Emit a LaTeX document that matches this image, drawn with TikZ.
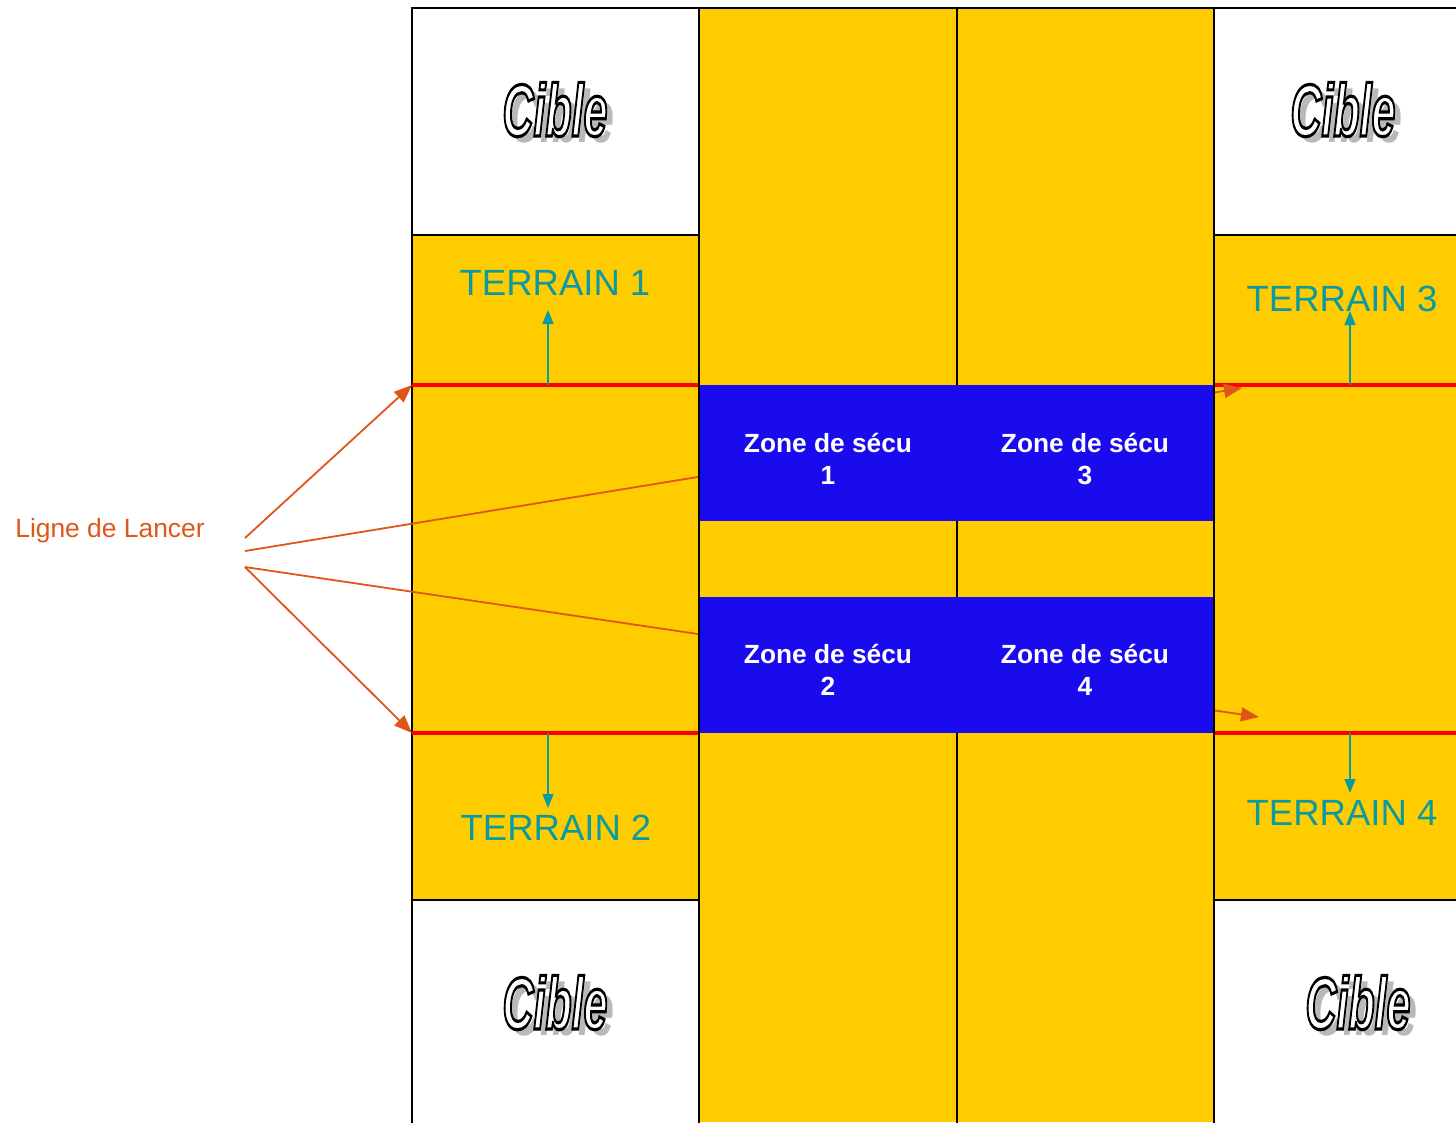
\documentclass[tikz,border=0pt]{standalone}
\usepackage{fontspec}
\setmainfont{Liberation Sans}
\usetikzlibrary{arrows.meta}
\definecolor{yel}{HTML}{FFCC00}
\definecolor{blu}{HTML}{1A0AEE}
\definecolor{teal2}{HTML}{0A9AA0}
\definecolor{orng}{HTML}{E0561A}
\definecolor{redl}{HTML}{FF0000}
\tikzset{
  bline/.style={black, line width=1.6pt},
  redline/.style={redl, line width=4.5pt},
  oarrow/.style={orng, line width=1.8pt, -{Triangle[length=18pt,width=14pt]}},
  tarrow/.style={teal2, line width=1.6pt, -{Triangle[length=14pt,width=11pt]}},
  terrain/.style={text=teal2, font=\fontsize{36.5}{40}\selectfont, inner sep=0pt, anchor=base},
  zone/.style={text=white, font=\fontsize{26.3}{32}\selectfont\bfseries, align=center, inner sep=0pt},
  lanc/.style={text=orng, font=\fontsize{26.4}{30}\selectfont, inner sep=0pt, anchor=base},
  cib/.style={font=\fontsize{74}{75}\selectfont\bfseries\itshape, inner sep=0pt, anchor=base}
}
\newcommand{\cibleword}{\scalebox{0.58}[1]{Cible}}
\newcommand{\outlinedword}{\scalebox{0.58}[1]{\special{pdf:literal direct 0 G 2 Tr 3.2 w}Cible\special{pdf:literal direct 0 Tr}}}
\newcommand{\drawcible}[2]{%
  \node[cib, text=gray!55, xshift=7pt, yshift=-6pt] (#1s) at (#2) {\cibleword};
  \node[cib, text=white] (#1) at (#2) {\outlinedword};
}
\begin{document}
\begin{tikzpicture}[x=1pt,y=-1pt]
\useasboundingbox (0,0) rectangle (1456,1122);
\fill[white] (0,0) rectangle (1456,1122);
% yellow areas
\fill[yel] (412,235) rectangle (699,900);
\fill[yel] (699,8) rectangle (1214,1122);
\fill[yel] (1214,235) rectangle (1460,900);
% frame lines
\draw[bline] (412,1125) -- (412,8) -- (1460,8);
\draw[bline] (957,8) -- (957,1125);
\draw[bline] (412,235) -- (699,235);
\draw[bline] (1214,235) -- (1460,235);
\draw[bline] (412,900) -- (699,900);
\draw[bline] (1214,900) -- (1460,900);
% red lines
\draw[redline] (412,385) -- (699,385);
\draw[redline] (1214,385) -- (1460,385);
\draw[redline] (412,733) -- (699,733);
\draw[redline] (1214,733) -- (1460,733);
% label and orange arrows
\node[lanc] (lancer) at (110,537) {Ligne de Lancer};
\coordinate (s1) at (245,538);
\coordinate (s2) at (245,551);
\coordinate (s3) at (245,567);
\coordinate (e1) at (412,385);
\coordinate (e2) at (1242,388);
\coordinate (e3) at (1259,717);
\coordinate (e4) at (412,733);
\draw[oarrow] (s1) -- (e1);
\draw[oarrow] (s2) -- (e2);
\draw[oarrow] (s3) -- (e3);
\draw[oarrow] (s3) -- (e4);
% blue zones
\fill[blu] (699,385) rectangle (1214,521);
\fill[blu] (699,597) rectangle (1214,733);
\draw[bline] (699,8) -- (699,1125);
\draw[bline] (1214,8) -- (1214,1125);
\node[zone] (z1) at (828,459) {Zone de sécu\\1};
\node[zone] (z3) at (1085,459) {Zone de sécu\\3};
\node[zone] (z2) at (828,670) {Zone de sécu\\2};
\node[zone] (z4) at (1085,670) {Zone de sécu\\4};
% terrain labels
\node[terrain] (t1) at (555,295) {TERRAIN 1};
\node[terrain] (t3) at (1342,311) {TERRAIN 3};
\node[terrain] (t2) at (556,840) {TERRAIN 2};
\node[terrain] (t4) at (1342,825) {TERRAIN 4};
% teal arrows
\coordinate (a1) at (548,385); \coordinate (b1) at (548,310);
\coordinate (a2) at (548,733); \coordinate (b2) at (548,808);
\coordinate (a3) at (1350,385); \coordinate (b3) at (1350,311);
\coordinate (a4) at (1350,733); \coordinate (b4) at (1350,793);
\draw[tarrow] (a1) -- (b1);
\draw[tarrow] (a2) -- (b2);
\draw[tarrow] (a3) -- (b3);
\draw[tarrow] (a4) -- (b4);
% cible labels
\drawcible{c1}{555,136}
\drawcible{c3}{1343,136}
\drawcible{c2}{555,1029}
\drawcible{c4}{1358,1029}
\end{tikzpicture}
\end{document}
